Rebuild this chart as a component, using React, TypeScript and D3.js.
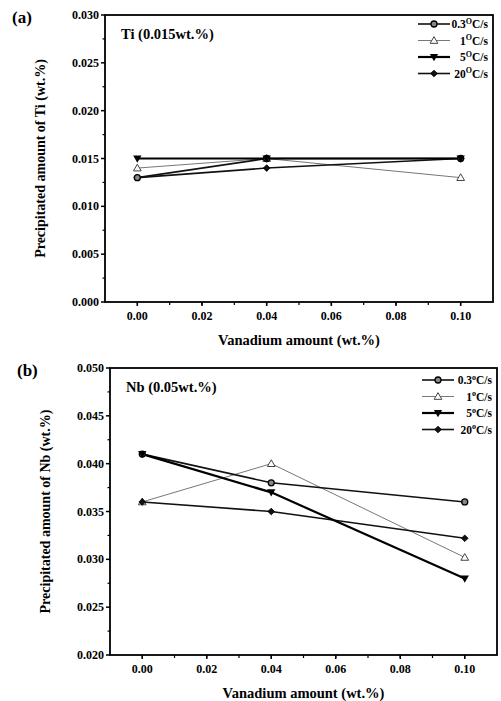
import React from "react";
import * as d3 from "d3";

const xValues = [0.0, 0.04, 0.1];
const seriesNames = ["0.3°C/s", "1°C/s", "5°C/s", "20°C/s"];
const tiValues = [
  [0.013, 0.015, 0.015],
  [0.014, 0.015, 0.013],
  [0.015, 0.015, 0.015],
  [0.013, 0.014, 0.015],
];
const nbValues = [
  [0.041, 0.038, 0.036],
  [0.036, 0.04, 0.0302],
  [0.041, 0.037, 0.028],
  [0.036, 0.035, 0.0322],
];
const xTicks = [0.0, 0.02, 0.04, 0.06, 0.08, 0.1];
const tiTicks = [0.0, 0.005, 0.01, 0.015, 0.02, 0.025, 0.03];
const nbTicks = [0.02, 0.025, 0.03, 0.035, 0.04, 0.045, 0.05];

const FONT = "'Liberation Serif', 'Times New Roman', Times, serif";

const styles = [
  { stroke: "#111", width: 1.6, marker: "circle" },
  { stroke: "#777", width: 1, marker: "triangle" },
  { stroke: "#000", width: 2.2, marker: "down" },
  { stroke: "#111", width: 1.6, marker: "diamond" },
];

function Marker({ kind, x, y }: { kind: string; x: number; y: number }) {
  if (kind === "circle")
    return <circle cx={x} cy={y} r={3} fill="#888" stroke="#000" strokeWidth={1.3} />;
  if (kind === "triangle")
    return (
      <path
        d={d3.symbol(d3.symbolTriangle, 26)() || ""}
        transform={`translate(${x},${y + 0.6})`}
        fill="#fff"
        stroke="#444"
        strokeWidth={1}
      />
    );
  if (kind === "down")
    return (
      <path
        d={d3.symbol(d3.symbolTriangle, 30)() || ""}
        transform={`translate(${x},${y - 0.6}) rotate(180)`}
        fill="#000"
      />
    );
  return (
    <path
      d={d3.symbol(d3.symbolSquare, 22)() || ""}
      transform={`translate(${x},${y}) rotate(45)`}
      fill="#111"
      stroke="#000"
      strokeWidth={0.8}
    />
  );
}

function Panel(props: {
  top: number;
  bottom: number;
  left: number;
  right: number;
  yDomain: [number, number];
  yTicks: number[];
  values: number[][];
  label: string;
  note: string;
  yTitle: string;
  legendTop: number;
  legendRight: number;
  ySup: boolean;
}) {
  const { top, bottom, left, right, yDomain, yTicks, values, label, note, yTitle, legendTop, legendRight } = props;
  const x = d3.scaleLinear().domain([-0.01, 0.11]).range([left, right]);
  const y = d3.scaleLinear().domain(yDomain).range([bottom, top]);
  const line = d3
    .line<number>()
    .x((_, i) => x(xValues[i]))
    .y((d) => y(d));
  const xMinor = d3.range(0, 11).map((i) => i * 0.01);
  const step = yTicks[1] - yTicks[0];
  const yMinor = yTicks.slice(0, -1).map((t) => t + step / 2);
  const order = [1, 3, 0, 2];
  return (
    <g>
      <text x={label === "(a)" ? 12 : 17} y={top + 8} fontFamily={FONT} fontWeight="bold" fontSize={17}>
        {label}
      </text>
      <rect x={left} y={top} width={right - left} height={bottom - top} fill="none" stroke="#000" strokeWidth={1.8} />
      {yTicks.map((t) => (
        <g key={t}>
          <line x1={left - 4} x2={left} y1={y(t)} y2={y(t)} stroke="#000" strokeWidth={1.5} />
          <text x={left - 6} y={y(t) + 4} textAnchor="end" fontFamily={FONT} fontWeight="bold" fontSize={12}>
            {t.toFixed(3)}
          </text>
        </g>
      ))}
      {yMinor.map((t) => (
        <line key={t} x1={left - 2.5} x2={left} y1={y(t)} y2={y(t)} stroke="#000" strokeWidth={1.2} />
      ))}
      {xMinor.map((t) => (
        <line key={t} x1={x(t)} x2={x(t)} y1={bottom} y2={bottom + 3} stroke="#000" strokeWidth={1.2} />
      ))}
      {xTicks.map((t) => (
        <g key={t}>
          <line x1={x(t)} x2={x(t)} y1={bottom} y2={bottom + 4} stroke="#000" strokeWidth={1.5} />
          <text x={x(t)} y={bottom + 18} textAnchor="middle" fontFamily={FONT} fontWeight="bold" fontSize={12}>
            {t.toFixed(2)}
          </text>
        </g>
      ))}
      <text
        x={(left + right) / 2}
        y={bottom + 43}
        textAnchor="middle"
        fontFamily={FONT}
        fontWeight="bold"
        fontSize={14.5}
      >
        Vanadium amount (wt.%)
      </text>
      <text
        transform={`translate(${left - 60},${(top + bottom) / 2}) rotate(-90)`}
        textAnchor="middle"
        fontFamily={FONT}
        fontWeight="bold"
        fontSize={14}
      >
        {yTitle}
      </text>
      <text x={left + 16} y={top + 24} fontFamily={FONT} fontWeight="bold" fontSize={14.5}>
        {note}
      </text>
      {order.map((si) => (
        <path key={si} d={line(values[si]) || ""} fill="none" stroke={styles[si].stroke} strokeWidth={styles[si].width} />
      ))}
      {order.map((si) =>
        values[si].map((v, i) => <Marker key={`${si}-${i}`} kind={styles[si].marker} x={x(xValues[i])} y={y(v)} />)
      )}
      {seriesNames.map((name, i) => {
        const ly = legendTop + i * 16.5;
        const lx1 = legendRight - 70;
        const lx2 = legendRight - 38;
        const parts = name.split("°");
        return (
          <g key={name}>
            <line x1={lx1} x2={lx2} y1={ly} y2={ly} stroke={styles[i].stroke} strokeWidth={styles[i].width} />
            <Marker kind={styles[i].marker} x={(lx1 + lx2) / 2} y={ly} />
            <text x={legendRight} y={ly + 4} textAnchor="end" fontFamily={FONT} fontWeight="bold" fontSize={11.5}>
              {parts[0]}
              <tspan dy={-4.5} fontSize={8}>
                {props.ySup ? "O" : "o"}
              </tspan>
              <tspan dy={4.5}>{parts[1]}</tspan>
            </text>
          </g>
        );
      })}
    </g>
  );
}

export default function App() {
  return (
    <svg width={501} height={701} style={{ position: "absolute", left: 0, top: 0, background: "#fff" }}>
      <rect width={501} height={701} fill="#fff" />
      <Panel
        top={15}
        bottom={302}
        left={105}
        right={493}
        yDomain={[0, 0.03]}
        yTicks={tiTicks}
        values={tiValues}
        label="(a)"
        note="Ti (0.015wt.%)"
        yTitle="Precipitated amount of Ti (wt.%)"
        legendTop={24}
        legendRight={488}
        ySup={true}
      />
      <Panel
        top={368}
        bottom={655}
        left={110}
        right={497}
        yDomain={[0.02, 0.05]}
        yTicks={nbTicks}
        values={nbValues}
        label="(b)"
        note="Nb (0.05wt.%)"
        yTitle="Precipitated amount of Nb (wt.%)"
        legendTop={380}
        legendRight={492}
        ySup={false}
      />
    </svg>
  );
}
